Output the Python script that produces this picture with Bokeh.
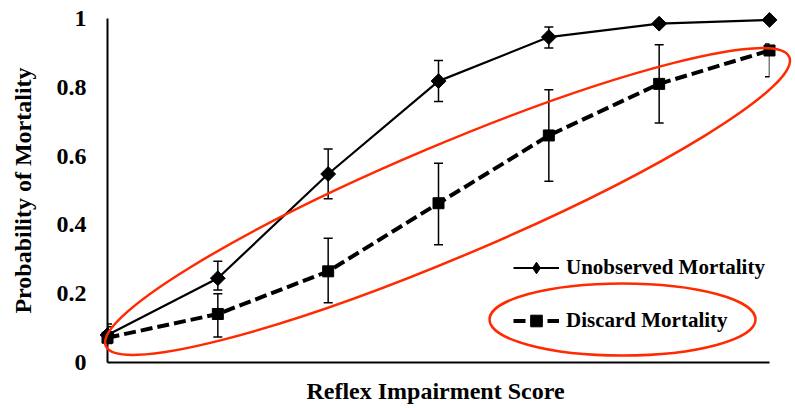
import numpy as np
from bokeh.plotting import figure
from bokeh.models import (ColumnDataSource, Range1d, FixedTicker, Legend,
                          LegendItem, Whisker, TeeHead)
from bokeh.embed import file_html
from bokeh.resources import INLINE

# Reflex impairment score (0-6)
score = [0, 1, 2, 3, 4, 5, 6]

# Unobserved mortality: estimate and interval bounds
unobserved = [0.080, 0.245, 0.548, 0.818, 0.946, 0.985, 0.996]
unobs_lower = [0.062, 0.211, 0.476, 0.759, 0.914, 0.978, 0.990]
unobs_upper = [0.112, 0.294, 0.621, 0.878, 0.975, 0.992, 0.999]

# Discard mortality: estimate and interval bounds
discard = [0.072, 0.141, 0.265, 0.463, 0.660, 0.810, 0.907]
disc_lower = [0.055, 0.074, 0.174, 0.342, 0.527, 0.696, 0.831]
disc_upper = [0.104, 0.200, 0.361, 0.579, 0.793, 0.924, 0.926]

y_ticks = [0, 0.2, 0.4, 0.6, 0.8, 1]
y_tick_labels = ["0", "0.2", "0.4", "0.6", "0.8", "1"]

FONT = "Liberation Serif"
RED = "#ff2a00"

p = figure(width=795, height=408, x_range=Range1d(0, 6), y_range=Range1d(0, 1),
           output_backend="svg", toolbar_location=None,
           min_border_left=107, min_border_right=26,
           min_border_top=18, min_border_bottom=46)
p.outline_line_color = None
p.grid.visible = False
p.background_fill_color = "white"
p.border_fill_color = "white"

# x axis: line and title only
xa = p.xaxis[0]
xa.ticker = FixedTicker(ticks=[])
xa.axis_label = "Reflex Impairment  Score"
xa.axis_label_text_font = FONT
xa.axis_label_text_font_size = "24px"
xa.axis_label_text_font_style = "bold"
xa.axis_label_text_color = "black"
xa.axis_label_standoff = 15
xa.axis_line_width = 2
xa.axis_line_color = "black"
xa.major_tick_line_color = None
xa.minor_tick_line_color = None

# y axis
ya = p.yaxis[0]
ya.ticker = FixedTicker(ticks=y_ticks)
ya.major_label_overrides = dict(zip(y_ticks, y_tick_labels))
ya.major_label_text_font = FONT
ya.major_label_text_font_size = "24px"
ya.major_label_text_font_style = "bold"
ya.major_label_text_color = "black"
ya.major_label_standoff = 21
ya.major_tick_line_color = None
ya.minor_tick_line_color = None
ya.major_tick_out = 0
ya.major_tick_in = 0
ya.axis_line_width = 2
ya.axis_line_color = "black"
ya.axis_label = "Probability of Mortality"
ya.axis_label_text_font = FONT
ya.axis_label_text_font_size = "24px"
ya.axis_label_text_font_style = "bold"
ya.axis_label_text_color = "black"
ya.axis_label_standoff = 18

src_u = ColumnDataSource(dict(x=score, y=unobserved, lower=unobs_lower, upper=unobs_upper))
src_d = ColumnDataSource(dict(x=score, y=discard, lower=disc_lower, upper=disc_upper))

# error bars
for src in (src_u, src_d):
    w = Whisker(base="x", lower="lower", upper="upper", source=src, dimension="height",
                line_color="black", line_width=1.5, level="annotation",
                upper_head=TeeHead(size=9, line_width=1.5, line_color="black"),
                lower_head=TeeHead(size=9, line_width=1.5, line_color="black"))
    p.add_layout(w)

# series lines and markers
l_u = p.line("x", "y", source=src_u, line_color="black", line_width=2.2, level="overlay")
# diamond marker used as the legend key; sits inside the rotated-square markers
key_u = p.scatter("x", "y", source=src_u, marker="diamond", size=13,
                  fill_color="black", line_color="black", level="overlay")
m_u = p.scatter("x", "y", source=src_u, marker="square", angle=np.pi / 4, size=10.5,
                fill_color="black", line_color="black", level="overlay")
l_d = p.line("x", "y", source=src_d, line_color="black", line_width=4,
             line_dash="12 5", level="overlay")
m_d = p.scatter("x", "y", source=src_d, marker="square", size=11,
                fill_color="black", line_color="black", level="overlay")

# highlight rings
p.ellipse(x=[3.082], y=[0.468], width=[742], height=[112], angle=[0.4],
          width_units="screen", height_units="screen",
          fill_color=None, line_color=RED, line_width=2.5, level="overlay")
p.ellipse(x=[4.668], y=[0.125], width=[266], height=[72], angle=[0],
          width_units="screen", height_units="screen",
          fill_color=None, line_color=RED, line_width=2.5, level="overlay")

legend = Legend(items=[LegendItem(label="Unobserved Mortality", renderers=[l_u, key_u]),
                       LegendItem(label="Discard Mortality", renderers=[l_d, m_d])],
                location=(406, 27), glyph_width=46, glyph_height=29, label_height=24,
                label_standoff=7, spacing=24, padding=0, margin=0,
                border_line_color=None, background_fill_alpha=0,
                label_text_font=FONT, label_text_font_size="21px",
                label_text_font_style="bold", label_text_color="black")
p.add_layout(legend)

open("out.html", "w").write(file_html(p, INLINE))
